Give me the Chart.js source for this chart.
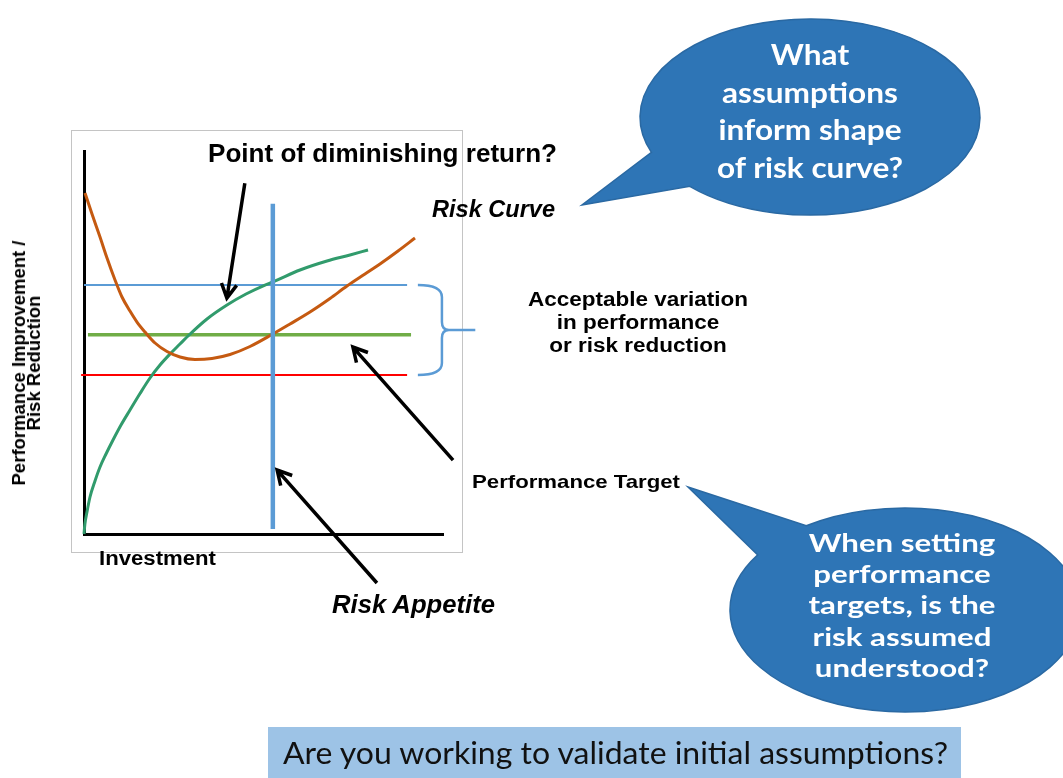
<!DOCTYPE html>
<html>
<head>
<meta charset="utf-8">
<script src="https://cdn.jsdelivr.net/npm/chart.js@4.4.1/dist/chart.umd.min.js"></script>
<style>
  html, body { margin: 0; padding: 0; background: #fff; }
  body { width: 1063px; height: 778px; position: relative; overflow: hidden; }
  #chart { position: absolute; left: 0; top: 0; }
  .lbl { position: absolute; white-space: nowrap; }
</style>
</head>
<body>
<canvas id="chart" width="1063" height="778"></canvas>
<script>
// axes run 0..100 : x = investment, y = performance improvement / risk reduction
const performanceX = [0, 0.25, 0.84, 1.67, 3.06, 4.46, 6.13, 8.08, 10.31, 12.81, 15.60, 18.38, 21.17, 23.96, 26.74, 28.97, 34.26, 39.83, 45.13, 50.42, 52.65, 60.17, 67.69, 74.09, 79.11];
const performanceY = [0, 2.6, 5.8, 9.66, 13.84, 17.49, 20.89, 24.54, 28.46, 32.38, 36.68, 40.73, 44.13, 47.00, 49.61, 51.70, 56.14, 59.79, 62.66, 65.01, 65.80, 68.93, 71.28, 72.85, 74.15];

const riskX = [0.28, 2.23, 4.46, 6.41, 8.64, 10.58, 12.81, 14.76, 16.99, 19.78, 23.12, 26.74, 30.92, 35.65, 40.67, 46.24, 52.37, 57.38, 62.95, 68.52, 73.26, 78.27, 82.45, 87.47, 92.20];
const riskY = [89.03, 83.55, 77.55, 72.06, 66.32, 61.88, 58.22, 55.35, 52.74, 49.87, 47.65, 46.21, 45.56, 45.82, 46.87, 48.96, 52.09, 54.83, 57.96, 61.49, 64.75, 67.89, 70.50, 73.89, 77.28];

// horizontal levels: upper limit, target, lower limit
const levelNames = ['Upper limit', 'Performance target', 'Lower limit'];
const levelY = [65.0, 52.0, 41.5];
const levelFrom = [0, 1.1, -0.8];
const levelTo = [90.0, 91.1, 90.0];

// risk appetite (vertical)
const appetiteX = 52.6;
const appetiteFrom = 1.3;
const appetiteTo = 86.2;

// annotation arrows, in axis units: [fromX, fromY, toX, toY]
const arrows = [
  [44.8, 91.6, 39.8, 61.6],
  [102.8, 19.3, 74.9, 48.8],
  [81.6, -12.8, 53.8, 16.7]
];

const toPts = (xs, ys) => xs.map((x, i) => ({ x: x, y: ys[i] }));

function drawArrow(ctx, x1, y1, x2, y2) {
  const a = Math.atan2(y2 - y1, x2 - x1);
  const h = 16, w = 0.5;
  ctx.beginPath();
  ctx.moveTo(x1, y1);
  ctx.lineTo(x2, y2);
  ctx.moveTo(x2 - h * Math.cos(a - w), y2 - h * Math.sin(a - w));
  ctx.lineTo(x2, y2);
  ctx.lineTo(x2 - h * Math.cos(a + w), y2 - h * Math.sin(a + w));
  ctx.stroke();
}

function drawBubble(ctx, b) {
  const ang = p => Math.atan2((p[1] - b.cy) / b.ry, (p[0] - b.cx) / b.rx);
  const t1 = ang(b.baseA);
  let t2 = ang(b.baseB);
  while (t2 <= t1) t2 += Math.PI * 2;
  ctx.beginPath();
  ctx.ellipse(b.cx, b.cy, b.rx, b.ry, 0, t1, t2);
  ctx.lineTo(b.tip[0], b.tip[1]);
  ctx.closePath();
  ctx.fillStyle = '#2e75b6';
  ctx.fill();
  ctx.strokeStyle = '#2a69a3';
  ctx.lineWidth = 1.5;
  ctx.stroke();
}

const bubbles = [
  { cx: 810, cy: 117, rx: 170, ry: 98, baseA: [653, 152], baseB: [692, 185], tip: [582, 205] },
  { cx: 905, cy: 610, rx: 175, ry: 102, baseA: [803, 523], baseB: [758, 555], tip: [688, 487] }
];

const decor = {
  id: 'decor',
  beforeDraw(chart) {
    const ctx = chart.ctx;
    ctx.save();
    // frame around the figure
    ctx.strokeStyle = '#c4c4c4';
    ctx.lineWidth = 1;
    ctx.strokeRect(71.5, 130.5, 391, 422);
    bubbles.forEach(b => drawBubble(ctx, b));
    // bottom banner
    ctx.fillStyle = '#9dc3e6';
    ctx.fillRect(268, 727, 693, 60);
    ctx.restore();
  },
  afterDatasetsDraw(chart) {
    const ctx = chart.ctx;
    const sx = chart.scales.x, sy = chart.scales.y;
    ctx.save();
    ctx.strokeStyle = '#000';
    ctx.lineWidth = 3.5;
    ctx.lineJoin = 'miter';
    arrows.forEach(a => drawArrow(ctx,
      sx.getPixelForValue(a[0]), sy.getPixelForValue(a[1]),
      sx.getPixelForValue(a[2]), sy.getPixelForValue(a[3])));

    // curly bracket spanning the acceptable band
    const xL = sx.getPixelForValue(93.0), xM = sx.getPixelForValue(99.7), xT = sx.getPixelForValue(109.0);
    const yT = sy.getPixelForValue(levelY[0]), yB = sy.getPixelForValue(levelY[2]);
    const yM = (yT + yB) / 2;
    ctx.strokeStyle = '#5b9bd5';
    ctx.lineWidth = 2.5;
    ctx.lineJoin = 'round';
    ctx.beginPath();
    ctx.moveTo(xL, yT);
    ctx.quadraticCurveTo(xM, yT, xM, yT + 12);
    ctx.lineTo(xM, yM - 8);
    ctx.quadraticCurveTo(xM, yM, xM + 7, yM);
    ctx.lineTo(xT, yM);
    ctx.moveTo(xM + 7, yM);
    ctx.quadraticCurveTo(xM, yM, xM, yM + 8);
    ctx.lineTo(xM, yB - 12);
    ctx.quadraticCurveTo(xM, yB, xL, yB);
    ctx.stroke();
    ctx.restore();
  }
};

const lineBase = { showLine: true, pointRadius: 0, fill: false, clip: false };
const levelColors = ['#5b9bd5', '#70ad47', '#ff0000'];
const levelWidths = [2, 3.5, 2];

const datasets = [
  Object.assign({ label: 'Risk appetite', borderColor: '#5b9bd5', borderWidth: 4.5,
    data: [{ x: appetiteX, y: appetiteFrom }, { x: appetiteX, y: appetiteTo }] }, lineBase),
  Object.assign({ label: 'Risk curve', borderColor: '#c55a11', borderWidth: 3,
    cubicInterpolationMode: 'monotone', data: toPts(riskX, riskY) }, lineBase),
  Object.assign({ label: 'Performance', borderColor: '#319b6c', borderWidth: 3,
    cubicInterpolationMode: 'monotone', data: toPts(performanceX, performanceY) }, lineBase)
];
levelNames.forEach((name, i) => {
  datasets.push(Object.assign({ label: name, borderColor: levelColors[i], borderWidth: levelWidths[i],
    data: [{ x: levelFrom[i], y: levelY[i] }, { x: levelTo[i], y: levelY[i] }] }, lineBase));
});

const axisOpts = {
  min: 0, max: 100,
  ticks: { display: false },
  grid: { display: false, drawTicks: false },
  border: { display: true, color: '#000', width: 3 }
};

new Chart(document.getElementById('chart'), {
  type: 'scatter',
  data: { datasets: datasets },
  options: {
    responsive: false,
    animation: false,
    events: [],
    devicePixelRatio: 1,
    layout: { padding: { left: 84, top: 151, right: 620, bottom: 244 } },
    plugins: { legend: { display: false }, tooltip: { enabled: false } },
    scales: { x: Object.assign({}, axisOpts), y: Object.assign({}, axisOpts) }
  },
  plugins: [decor]
});

// text labels (html)
const ARIAL = '"Liberation Sans", Arial, sans-serif';
const CALIBRI = 'Lato, "Open Sans", sans-serif';
const labels = [
  { lines: ['Point of diminishing return?'], x: 208, base: 162, size: 25, width: 349, weight: 'bold' },
  { lines: ['Risk Curve'], x: 432, base: 217, size: 24, width: 123, weight: 'bold', style: 'italic' },
  { lines: ['Acceptable variation', 'in performance', 'or risk reduction'], cx: 638, base: 306, lh: 23, size: 20, width: 220, weight: 'bold' },
  { lines: ['Performance Target'], x: 472, base: 488, size: 19, width: 208, weight: 'bold' },
  { lines: ['Investment'], x: 99, base: 565, size: 20, width: 117, weight: 'bold' },
  { lines: ['Risk Appetite'], x: 332, base: 613, size: 25, width: 163, weight: 'bold', style: 'italic' },
  { lines: ['Performance Improvement /', 'Risk Reduction'], rotate: true, bx: 25, cy: 363, lh: 15, size: 18, width: 245, weight: 'bold' },
  { lines: ['What', 'assumptions', 'inform shape', 'of risk curve?'], cx: 810, base: 65, lh: 37.5, size: 28, width: 186, weight: 'bold', family: CALIBRI, color: '#fff' },
  { lines: ['When setting', 'performance', 'targets, is the', 'risk assumed', 'understood?'], cx: 902, base: 552, lh: 31.2, size: 25, width: 187, weight: 'bold', family: CALIBRI, color: '#fff' },
  { lines: ['Are you working to validate initial assumptions?'], x: 283, base: 764, size: 31, width: 665, family: CALIBRI, color: '#111' }
];

labels.forEach(t => {
  const d = document.createElement('div');
  d.className = 'lbl';
  d.style.fontFamily = t.family || ARIAL;
  d.style.fontSize = t.size + 'px';
  d.style.fontWeight = t.weight || 'normal';
  d.style.fontStyle = t.style || 'normal';
  d.style.lineHeight = (t.lh || Math.round(t.size * 1.2)) + 'px';
  d.style.color = t.color || '#000';
  const centered = t.cx !== undefined || t.rotate;
  d.style.textAlign = centered ? 'center' : 'left';
  if (centered) d.style.width = '500px';
  const spans = t.lines.map(s => {
    const row = document.createElement('div');
    const sp = document.createElement('span');
    sp.textContent = s;
    row.appendChild(sp);
    d.appendChild(row);
    return sp;
  });
  const probe = document.createElement('span');
  probe.style.cssText = 'display:inline-block;width:0;height:0;vertical-align:baseline';
  d.firstChild.appendChild(probe);
  document.body.appendChild(d);
  const natural = Math.max.apply(null, spans.map(s => s.getBoundingClientRect().width));
  const k = t.width ? t.width / natural : 1;
  const baseOff = probe.offsetTop;
  if (t.rotate) {
    const H = d.offsetHeight;
    const cx = t.bx - baseOff + H / 2;
    d.style.left = (cx - 250) + 'px';
    d.style.top = (t.cy - H / 2) + 'px';
    d.style.transformOrigin = '50% 50%';
    d.style.transform = 'rotate(-90deg) scaleX(' + k + ')';
  } else if (t.cx !== undefined) {
    d.style.left = (t.cx - 250) + 'px';
    d.style.top = (t.base - baseOff) + 'px';
    d.style.transformOrigin = '50% 0';
    d.style.transform = 'scaleX(' + k + ')';
  } else {
    d.style.left = t.x + 'px';
    d.style.top = (t.base - baseOff) + 'px';
    d.style.transformOrigin = '0 0';
    d.style.transform = 'scaleX(' + k + ')';
  }
});
</script>
</body>
</html>
